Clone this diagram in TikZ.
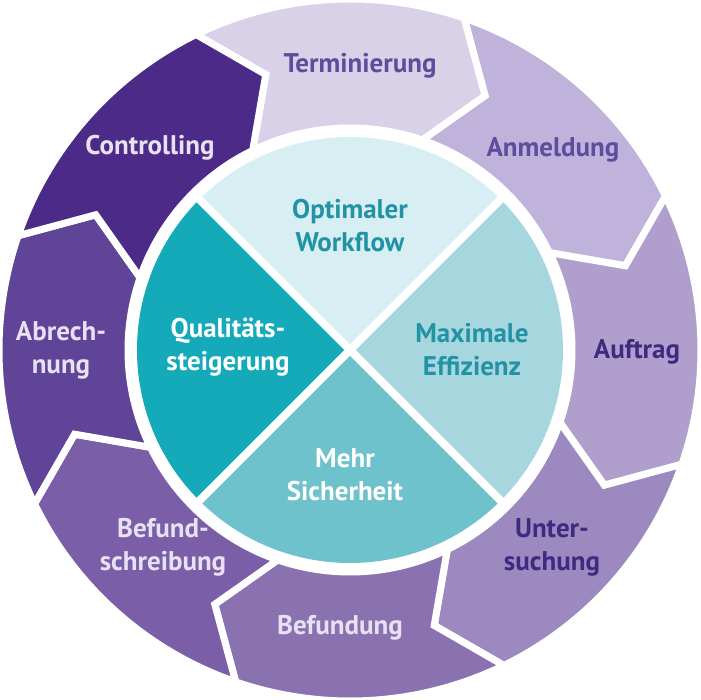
\documentclass[tikz,border=0pt]{standalone}
\usepackage{fontspec}
\setmainfont{PT Sans}
\usepackage{tikz}
\definecolor{cTerm}{HTML}{D8D1E8}
\definecolor{cAnm}{HTML}{BFB3DB}
\definecolor{cAuf}{HTML}{B09FCC}
\definecolor{cUnt}{HTML}{9C89C0}
\definecolor{cBef}{HTML}{8A72B0}
\definecolor{cSchr}{HTML}{7A5FA8}
\definecolor{cAbr}{HTML}{5F4498}
\definecolor{cCtrl}{HTML}{4C2B88}
\definecolor{tDark}{HTML}{5E4C9C}
\definecolor{tDeep}{HTML}{3E2A80}
\definecolor{tLight}{HTML}{E8E0F3}
\definecolor{qTop}{HTML}{D7EEF2}
\definecolor{qRight}{HTML}{A7D7DE}
\definecolor{qBot}{HTML}{6EC2CB}
\definecolor{qLeft}{HTML}{15AAB9}
\definecolor{tTeal}{HTML}{2293A5}
\tikzstyle{seg}=[draw=white,line width=7pt,line join=miter]
\tikzstyle{lbl}=[font=\fontsize{27}{33}\selectfont\bfseries,align=center,inner sep=0pt]
\newcommand{\Rout}{351pt}
\newcommand{\Rmid}{288pt}
\newcommand{\Rin}{222pt}
% one chevron of the ring, from angle #1 clockwise over 45 degrees
\newcommand{\ringseg}[2]{\filldraw[seg,fill=#2] (#1:\Rout) arc[start angle=#1,end angle=#1-45,radius=\Rout]
  -- (#1-54:\Rmid) -- (#1-45:\Rin) arc[start angle=#1-45,end angle=#1,radius=\Rin] -- (#1-9:\Rmid) -- cycle;}
\begin{document}
\begin{tikzpicture}[x=1pt,y=1pt]
\useasboundingbox (-350,-350) rectangle (351,350);
\ringseg{116}{cTerm}
\ringseg{71}{cAnm}
\ringseg{26}{cAuf}
\ringseg{-19}{cUnt}
\ringseg{-64}{cBef}
\ringseg{-109}{cSchr}
\ringseg{-154}{cAbr}
\ringseg{161}{cCtrl}
% inner circle
\fill[qTop] (0,0) -- (45:213pt) arc[start angle=45,end angle=135,radius=213pt] -- cycle;
\fill[qLeft] (0,0) -- (135:213pt) arc[start angle=135,end angle=225,radius=213pt] -- cycle;
\fill[qBot] (0,0) -- (225:213pt) arc[start angle=225,end angle=315,radius=213pt] -- cycle;
\fill[qRight] (0,0) -- (315:213pt) arc[start angle=315,end angle=405,radius=213pt] -- cycle;
\draw[white,line width=8pt] (45:220pt) -- (225:220pt);
\draw[white,line width=8pt] (135:220pt) -- (315:220pt);
\node[lbl,text=tDark] (term) at (10,284) {Terminierung};
\node[lbl,text=tDark] (anm) at (203,200) {Anmeldung};
\node[lbl,text=tDeep] (auf) at (287,-2) {Auftrag};
\node[lbl,text=tDeep] (unt) at (202,-197) {Unter-\\suchung};
\node[lbl,text=tLight] (bef) at (-10,-278) {Befundung};
\node[lbl,text=tLight] (schr) at (-187,-197) {Befund-\\schreibung};
\node[lbl,text=tLight] (abr) at (-289,0) {Abrech-\\nung};
\node[lbl,text=tLight] (ctrl) at (-200,202) {Controlling};
\node[lbl,text=tTeal] (work) at (0,124) {Optimaler\\Workflow};
\node[lbl,text=tTeal] (eff) at (122,0) {Maximale\\Effizienz};
\node[lbl,text=white] (sich) at (-5,-125) {Mehr\\Sicherheit};
\node[lbl,text=white] (qual) at (-122,3) {Qualitäts-\\steigerung};
\end{tikzpicture}
\end{document}
